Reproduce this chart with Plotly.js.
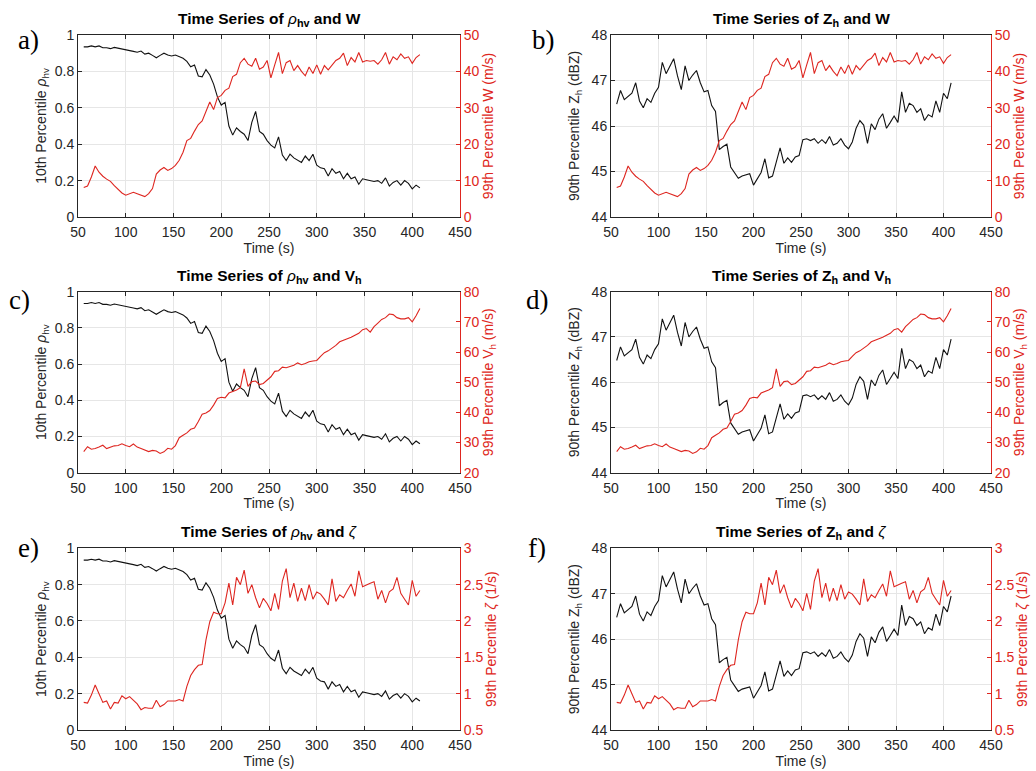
<!DOCTYPE html>
<html>
<head>
<meta charset="utf-8">
<script src="https://cdn.plot.ly/plotly-3.0.1.min.js"></script>
<style>html,body{margin:0;padding:0;background:#fff;}#chart{width:1036px;height:771px;}</style>
</head>
<body>
<div id="chart"></div>
<script>
// ---- data ----
const time = [56,60,64,68,72,76,80,84,88,92,
  96,100,104,108,112,116,120,124,128,132,
  136,140,144,148,152,156,160,164,168,172,
  176,180,184,188,192,196,200,204,208,212,
  216,220,224,228,232,236,240,244,248,252,
  256,260,264,268,272,276,280,284,288,292,
  296,300,304,308,312,316,320,324,328,332,
  336,340,344,348,352,356,360,364,368,372,
  376,380,384,388,392,396,400,404,408];

const rhoHV = [0.935,0.935,0.94,0.935,0.94,0.93,0.93,0.925,0.932,0.928,
  0.925,0.922,0.915,0.91,0.905,0.912,0.895,0.9,0.888,0.875,
  0.888,0.9,0.89,0.885,0.89,0.882,0.872,0.855,0.825,0.835,
  0.775,0.77,0.81,0.78,0.73,0.66,0.615,0.63,0.5,0.45,
  0.49,0.47,0.455,0.42,0.52,0.58,0.47,0.455,0.42,0.395,
  0.38,0.44,0.34,0.31,0.345,0.325,0.31,0.3,0.335,0.31,
  0.345,0.285,0.27,0.265,0.225,0.265,0.24,0.25,0.21,0.24,
  0.21,0.22,0.18,0.21,0.205,0.2,0.195,0.2,0.185,0.215,
  0.17,0.19,0.2,0.175,0.2,0.185,0.155,0.175,0.16];

const zh = [46.48,46.78,46.58,46.66,46.72,46.95,46.55,46.4,46.6,46.52,
  46.72,46.85,47.4,47.15,47.3,47.48,47.1,46.8,47.32,47.0,
  47.12,47.22,46.95,46.75,46.78,46.45,46.32,45.48,45.55,45.6,
  45.1,44.98,44.85,44.9,44.92,44.95,44.7,44.85,44.98,45.28,
  44.86,44.9,45.2,45.52,45.18,45.3,45.2,45.32,45.35,45.7,
  45.72,45.68,45.72,45.62,45.7,45.62,45.77,45.58,45.62,45.72,
  45.58,45.5,45.65,45.95,46.12,46.02,45.62,46.05,45.92,46.15,
  46.27,45.95,46.08,46.22,46.08,46.75,46.3,46.5,46.45,46.3,
  46.38,46.12,46.25,46.2,46.55,46.3,46.72,46.6,46.95];

const wMax = [8.1,8.5,11,14,12.3,11.2,10.4,9.8,8.6,7.6,
  6.6,6.0,6.3,6.8,6.4,6.0,5.6,6.4,7.8,11.8,
  12.9,13.6,12.8,13.3,14.2,15.6,17.8,21.0,21.6,23.6,
  25.4,26.4,29.0,31.6,29.5,32.8,33.4,34.8,35.4,38.6,
  39.2,42.4,43.6,42.0,41.4,43.6,40.6,41.2,43.0,38.2,
  41.8,45.2,39.4,42.4,43.0,40.2,41.6,40.0,38.8,41.2,
  39.4,41.8,39.2,41.6,40.4,41.8,43.0,43.6,45.0,41.6,
  43.8,42.6,45.2,42.6,43.0,42.8,43.0,42.0,43.2,45.2,
  42.0,44.0,43.2,44.8,43.6,44.0,42.2,43.8,44.6];

const vhMax = [27.0,28.6,27.8,28.0,28.5,29.1,28.0,28.5,28.9,29.0,
  29.6,29.0,28.6,29.5,28.5,28.0,27.4,27.0,27.4,27.2,
  26.4,26.9,28.1,27.8,29.0,31.6,32.4,33.2,34.4,34.8,
  37.0,39.4,39.8,40.6,42.4,44.6,45.0,44.8,46.4,46.8,
  47.4,48.2,54.4,48.6,50.2,50.4,49.2,49.6,50.6,51.8,
  53.6,53.8,55.0,54.8,55.2,55.6,56.4,55.8,56.2,56.8,
  57.0,57.2,58.6,59.8,60.4,61.2,62.2,63.4,64.0,64.4,
  64.9,65.5,66.2,67.4,67.8,66.6,68.4,69.6,70.8,71.4,
  72.6,72.4,71.4,71.0,71.0,71.4,70.0,72.0,74.4];

const zetaMax = [0.88,0.87,0.98,1.12,1.0,0.88,0.9,0.79,0.88,0.87,
  0.97,0.93,0.96,0.91,0.86,0.78,0.81,0.8,0.8,0.91,
  0.82,0.85,0.9,0.9,0.9,0.92,0.9,1.1,1.25,1.33,
  1.39,1.4,1.74,1.99,2.12,2.1,2.1,2.25,2.52,2.22,
  2.6,2.5,2.7,2.38,2.5,2.32,2.18,2.31,2.24,2.14,
  2.38,2.16,2.55,2.72,2.32,2.52,2.27,2.45,2.28,2.5,
  2.3,2.4,2.37,2.3,2.22,2.58,2.27,2.36,2.32,2.42,
  2.51,2.34,2.69,2.47,2.5,2.52,2.54,2.3,2.42,2.25,
  2.4,2.44,2.6,2.38,2.3,2.22,2.56,2.34,2.42];

const panelLetters = ['a)','b)','c)','d)','e)','f)'];
const panelTitles = [
  '<b>Time Series of </b><i>ρ</i><b><sub>hv</sub> and W</b>',
  '<b>Time Series of Z<sub>h</sub> and W</b>',
  '<b>Time Series of </b><i>ρ</i><b><sub>hv</sub> and V<sub>h</sub></b>',
  '<b>Time Series of Z<sub>h</sub> and V<sub>h</sub></b>',
  '<b>Time Series of </b><i>ρ</i><b><sub>hv</sub> and </b><i>ζ</i>',
  '<b>Time Series of Z<sub>h</sub> and </b><i>ζ</i>'
];
const leftTitles = ['10th Percentile <i>ρ</i><sub>hv</sub>', '90th Percentile Z<sub>h</sub> (dBZ)'];
const rightTitles = ['99th Percentile W (m/s)', '99th Percentile V<sub>h</sub> (m/s)', '99th Percentile <i>ζ</i> (1/s)'];
const leftRanges = [[0,1],[44,48]];
const leftDticks = [0.2, 1];
const rightRanges = [[0,50],[20,80],[0.5,3]];
const rightDticks = [10, 10, 0.5];

// ---- layout geometry ----
const W = 1036, H = 771;
const colX = [[78,460],[611,991]];
const rowY = [[35,217],[291.7,472.7],[548.3,730]];
const letterPos = [[28,40],[543,40],[19,300],[537,300],[28,548],[537,548]];

const FONT = 'Liberation Sans, Arial, Helvetica, sans-serif';
const RED = 'rgb(222,38,32)';
const DARK = '#262626';
const rightSeries = [wMax, vhMax, zetaMax];
const leftSeries = [rhoHV, zh];

const traces = [];
const layout = {
  width: W, height: H,
  margin: {l:0, r:0, t:0, b:0},
  paper_bgcolor: '#fff', plot_bgcolor: '#fff',
  showlegend: false,
  font: {family: FONT, size: 14, color: DARK},
  annotations: []
};

for (let i = 0; i < 6; i++) {
  const col = i % 2, row = Math.floor(i / 2);
  const n = i + 1;
  const xs = n === 1 ? '' : String(n);
  const yl = n === 1 ? '' : String(n);
  const yr = String(n + 6);
  const xd = [colX[col][0]/W, colX[col][1]/W];
  const yd = [1 - rowY[row][1]/H, 1 - rowY[row][0]/H];

  layout['xaxis' + xs] = {
    domain: xd, anchor: 'y' + yl, range: [50,450], dtick: 50, tick0: 50,
    showline: true, linecolor: DARK, linewidth: 1, mirror: 'ticks',
    ticks: 'inside', ticklen: 4, tickcolor: DARK, ticklabelstandoff: 2,
    showgrid: true, gridcolor: '#e6e6e6', zeroline: false,
    tickfont: {size: 14, color: DARK},
    title: {text: 'Time (s)', font: {size: 14, color: DARK}, standoff: 1}
  };
  layout['yaxis' + yl] = {
    domain: yd, anchor: 'x' + xs, range: leftRanges[col], dtick: leftDticks[col],
    showline: true, linecolor: DARK, linewidth: 1,
    ticks: 'inside', ticklen: 4, tickcolor: DARK,
    showgrid: true, gridcolor: '#e6e6e6', zeroline: false,
    tickfont: {size: 14, color: DARK},
    title: {text: leftTitles[col], font: {size: 14, color: DARK}, standoff: col === 0 ? 4 : 8}
  };
  layout['yaxis' + yr] = {
    overlaying: 'y' + yl, anchor: 'x' + xs, side: 'right',
    range: rightRanges[row], dtick: rightDticks[row],
    showline: true, linecolor: RED, linewidth: 1,
    ticks: 'inside', ticklen: 4, tickcolor: RED,
    showgrid: false, zeroline: false,
    tickfont: {size: 14, color: RED},
    title: {text: rightTitles[row], font: {size: 14, color: RED}, standoff: 3}
  };

  traces.push({
    x: time, y: leftSeries[col], type: 'scatter', mode: 'lines',
    xaxis: 'x' + xs, yaxis: 'y' + yl,
    line: {color: '#111', width: 1.1}, hoverinfo: 'skip'
  });
  traces.push({
    x: time, y: rightSeries[row], type: 'scatter', mode: 'lines',
    xaxis: 'x' + xs, yaxis: 'y' + yr,
    line: {color: RED, width: 1.1}, hoverinfo: 'skip'
  });

  layout.annotations.push({
    text: panelTitles[i], xref: 'paper', yref: 'paper',
    x: (xd[0] + xd[1]) / 2, y: yd[1], xanchor: 'center', yanchor: 'bottom',
    yshift: 4, showarrow: false, font: {size: 15.5, color: '#000', family: FONT}
  });
  layout.annotations.push({
    text: panelLetters[i], xref: 'paper', yref: 'paper',
    x: letterPos[i][0] / W, y: 1 - letterPos[i][1] / H, xanchor: 'center', yanchor: 'middle',
    showarrow: false, font: {size: 27, color: '#000', family: 'Liberation Serif, Times New Roman, serif'}
  });
}

Plotly.newPlot('chart', traces, layout, {staticPlot: true, displayModeBar: false});
</script>
</body>
</html>
